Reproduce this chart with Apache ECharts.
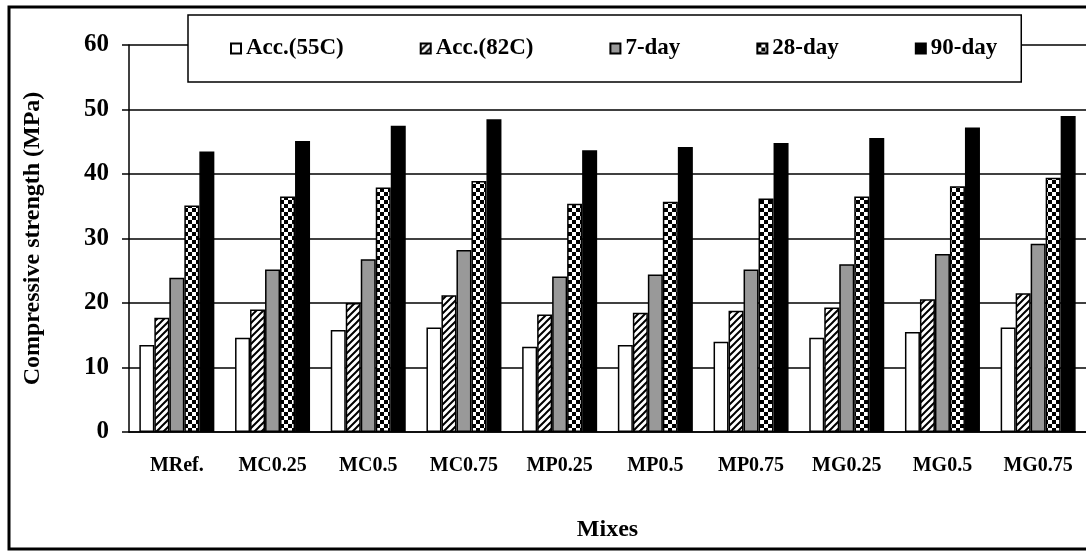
<!DOCTYPE html>
<html>
<head>
<meta charset="utf-8">
<script src="https://cdn.jsdelivr.net/npm/echarts@6/dist/echarts.min.js"></script>
<style>
html, body { margin: 0; padding: 0; background: #fff; }
#chart { width: 1086px; height: 552px; }
</style>
</head>
<body>
<div id="chart"></div>
<script>
var mixes = ['MRef.', 'MC0.25', 'MC0.5', 'MC0.75', 'MP0.25', 'MP0.5', 'MP0.75', 'MG0.25', 'MG0.5', 'MG0.75'];
var seriesNames = ['Acc.(55C)', 'Acc.(82C)', '7-day', '28-day', '90-day'];

var acc55 = [13.5, 14.6, 15.8, 16.2, 13.2, 13.5, 14.0, 14.6, 15.5, 16.2];
var acc82 = [17.7, 19.0, 20.0, 21.2, 18.2, 18.5, 18.8, 19.3, 20.6, 21.5];
var day7  = [23.9, 25.2, 26.8, 28.2, 24.1, 24.4, 25.2, 26.0, 27.6, 29.2];
var day28 = [35.1, 36.5, 37.9, 38.9, 35.4, 35.7, 36.2, 36.5, 38.1, 39.4];
var day90 = [43.5, 45.1, 47.5, 48.5, 43.7, 44.2, 44.8, 45.6, 47.2, 49.0];

var font = 'Liberation Serif';

// fill patterns like the old Excel chart
function hatchPattern() {
    var c = document.createElement('canvas');
    c.width = 7; c.height = 7;
    var ctx = c.getContext('2d');
    ctx.fillStyle = '#fff';
    ctx.fillRect(0, 0, 7, 7);
    ctx.strokeStyle = '#000';
    ctx.lineWidth = 2;
    ctx.beginPath();
    ctx.moveTo(-1, 8); ctx.lineTo(8, -1);
    ctx.moveTo(-8, 8); ctx.lineTo(1, -1);
    ctx.moveTo(6, 8); ctx.lineTo(15, -1);
    ctx.stroke();
    return c;
}

function checkerPattern() {
    var c = document.createElement('canvas');
    c.width = 8; c.height = 8;
    var ctx = c.getContext('2d');
    ctx.fillStyle = '#fff';
    ctx.fillRect(0, 0, 8, 8);
    ctx.fillStyle = '#000';
    ctx.fillRect(0, 0, 4, 4);
    ctx.fillRect(4, 4, 4, 4);
    return c;
}

var fills = [
    '#ffffff',
    { image: hatchPattern(), repeat: 'repeat' },
    '#999999',
    { image: checkerPattern(), repeat: 'repeat' },
    '#000000'
];
var values = [acc55, acc82, day7, day28, day90];

var series = [];
for (var i = 0; i < seriesNames.length; i++) {
    series.push({
        name: seriesNames[i],
        type: 'bar',
        barWidth: 15,
        barGap: '0%',
        itemStyle: {
            color: fills[i],
            borderColor: '#000',
            borderWidth: 1.5
        },
        data: values[i]
    });
}

var chart = echarts.init(document.getElementById('chart'));

var option = {
    animation: false,
    backgroundColor: '#fff',
    graphic: [
        {
            type: 'rect',
            z: -1,
            shape: { x: 9, y: 7, width: 1090, height: 542 },
            style: { fill: 'none', stroke: '#000', lineWidth: 3 }
        }
    ],
    legend: {
        left: 188,
        top: 15,
        padding: [22, 24, 22, 42],
        itemGap: 76,
        icon: 'rect',
        itemWidth: 10,
        itemHeight: 10,
        backgroundColor: '#fff',
        borderColor: '#000',
        borderWidth: 1.5,
        textStyle: { fontFamily: font, fontWeight: 'bold', fontSize: 23, color: '#000' },
        data: seriesNames
    },
    grid: {
        left: 129,
        right: -2,
        top: 45,
        bottom: 120
    },
    xAxis: {
        type: 'category',
        data: mixes,
        name: 'Mixes',
        nameLocation: 'middle',
        nameGap: 86,
        nameTextStyle: { fontFamily: font, fontWeight: 'bold', fontSize: 24, color: '#000' },
        axisLine: { lineStyle: { color: '#000', width: 1.5 } },
        axisTick: { length: 7, lineStyle: { color: '#000', width: 1.5 } },
        axisLabel: { margin: 24, fontFamily: font, fontWeight: 'bold', fontSize: 20, color: '#000' }
    },
    yAxis: {
        type: 'value',
        min: 0,
        max: 60,
        interval: 10,
        name: 'Compressive strength (MPa)',
        nameLocation: 'middle',
        nameGap: 84,
        nameTextStyle: { fontFamily: font, fontWeight: 'bold', fontSize: 24, color: '#000' },
        axisLine: { show: true, lineStyle: { color: '#000', width: 1.5 } },
        axisTick: { show: true, length: 7, lineStyle: { color: '#000', width: 1.5 } },
        axisLabel: { margin: 20, fontFamily: font, fontWeight: 'bold', fontSize: 25, color: '#000' },
        splitLine: { lineStyle: { color: '#000', width: 1.5 } }
    },
    series: series
};

chart.setOption(option);
</script>
</body>
</html>
